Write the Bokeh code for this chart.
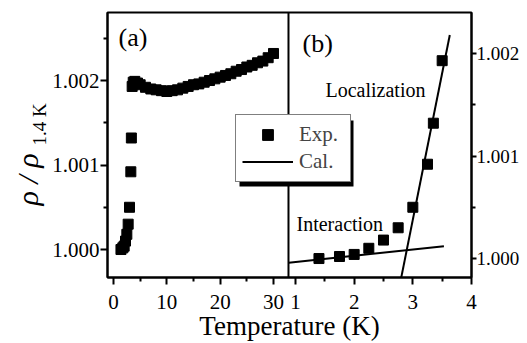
from bokeh.plotting import figure
from bokeh.models import (Range1d, LinearAxis, FixedTicker, PrintfTickFormatter, Span,
                          Label, Legend, LegendItem, BoxAnnotation, Title)
from bokeh.embed import file_html
from bokeh.resources import INLINE

# ---------------- data ----------------
# low-temperature measured points (shown in both panels)
t_low = [1.4, 1.75, 2.0, 2.25, 2.5, 2.75, 3.0, 3.25, 3.35, 3.5]
rho_low = [1.00000, 1.00002, 1.00004, 1.00010, 1.00018, 1.00030, 1.00050, 1.00092, 1.00132, 1.00193]
# higher-temperature measured points (panel a only)
t_high = [3.7, 4, 4.5, 5, 6, 7, 8, 9, 10, 11, 12, 13, 14, 15, 16, 17, 18, 19, 20,
          21, 22, 23, 24, 25, 26, 27, 28, 29, 30]
rho_high = [1.00198, 1.00199, 1.00197, 1.00195, 1.00192, 1.00190, 1.00189, 1.00188, 1.00187,
            1.00188, 1.00189, 1.00191, 1.00193, 1.00195, 1.00196, 1.00198, 1.00200, 1.00202,
            1.00204, 1.00206, 1.00208, 1.00211, 1.00213, 1.00216, 1.00218, 1.00221, 1.00223,
            1.00227, 1.00232]
# calculated lines (panel b)
t_interaction = [0.885, 3.53]
rho_interaction = [0.99996, 1.00012]
t_localization = [2.78, 3.63]
rho_localization = [0.99975, 1.00218]

# ticks
xticks_a = [0, 10, 20, 30]
xminor_a = [5, 15, 25]
xticks_b = [1, 2, 3, 4]
xminor_b = [1.5, 2.5, 3.5]
yticks = [1.000, 1.001, 1.002]
yminor_a = [1.0005, 1.0015, 1.0025]
yminor_b = [1.0005, 1.0015]

# ---------------- ranges ----------------
XA = (-1.125, 67.125)
XA_END = 32.81          # right edge of panel (a)
XB = (-2.204, 4.0)
YA = (0.999669, 1.002805)
YB = (0.999815, 1.0024)

FONT = "Liberation Serif"


def b_to_a(v):
    return round(XA[0] + (v - XB[0]) / (XB[1] - XB[0]) * (XA[1] - XA[0]), 6)


p = figure(width=527, height=343, x_range=Range1d(*XA), y_range=Range1d(*YA),
           x_axis_type=None, y_axis_type=None, output_backend="svg",
           toolbar_location=None, min_border_left=107, min_border_right=56,
           min_border_top=12, min_border_bottom=66,
           outline_line_color="black", outline_line_width=2,
           background_fill_color="white", border_fill_color="white")
p.extra_x_ranges = {"b": Range1d(*XB)}
p.extra_y_ranges = {"b": Range1d(*YB)}


def style(ax, tick_out=7, minor_out=4, standoff=1, size="20px"):
    ax.axis_line_width = 2
    ax.major_tick_line_width = 2
    ax.minor_tick_line_width = 2
    ax.major_tick_in = 0
    ax.minor_tick_in = 0
    ax.major_tick_out = tick_out
    ax.minor_tick_out = minor_out
    ax.major_label_standoff = standoff
    ax.major_label_text_font = FONT
    ax.major_label_text_font_size = size
    ax.major_label_text_color = "black"


# left axis of panel (a)
ax_left = LinearAxis(ticker=FixedTicker(ticks=yticks, minor_ticks=yminor_a),
                     formatter=PrintfTickFormatter(format="%.3f"))
style(ax_left, 7, 4, 1, "21px")
p.add_layout(ax_left, "left")

# y-axis title: rho / rho_{1.4 K}, built from two titles in the left panel
p.add_layout(Title(text="1.4 K", align="left", offset=132, standoff=0,
                   vertical_align="bottom", text_font=FONT, text_font_size="19px",
                   text_font_style="normal", text_color="black"), "left")
p.add_layout(Title(text="ρ / ρ", align="left", offset=72, standoff=-34,
                   vertical_align="bottom", text_font=FONT, text_font_size="30px",
                   text_font_style="italic", text_color="black"), "left")

# right axis of panel (b)
ax_right = LinearAxis(y_range_name="b", ticker=FixedTicker(ticks=yticks, minor_ticks=yminor_b),
                      formatter=PrintfTickFormatter(format="%.3f"))
style(ax_right, 5, 4, 0, "19px")
p.add_layout(ax_right, "right")

# shared bottom axis carrying the ticks of both panels
ticks_bottom = [float(v) for v in xticks_a] + [b_to_a(v) for v in xticks_b]
minor_bottom = [float(v) for v in xminor_a] + [b_to_a(v) for v in xminor_b]
overrides = {float(v): str(v) for v in xticks_a}
overrides.update({b_to_a(v): str(v) for v in xticks_b})
ax_bot = LinearAxis(ticker=FixedTicker(ticks=ticks_bottom, minor_ticks=minor_bottom),
                    major_label_overrides=overrides)
style(ax_bot, 7, 4, 10, "21px")
p.add_layout(ax_bot, "below")
p.add_layout(LinearAxis(ticker=FixedTicker(ticks=[]), axis_line_color=None,
                        major_tick_line_color=None, minor_tick_line_color=None,
                        major_tick_out=0, minor_tick_out=0,
                        axis_label="Temperature (K)", axis_label_text_font=FONT,
                        axis_label_text_font_size="27px", axis_label_text_font_style="normal",
                        axis_label_text_color="black", axis_label_standoff=-1), "below")

# ---------------- glyphs ----------------
p.scatter(t_low + t_high, rho_low + rho_high, marker="square", size=10,
          fill_color="black", line_color="black")
r_exp = p.scatter(t_low, rho_low, x_range_name="b", y_range_name="b", marker="square",
                  size=10, fill_color="black", line_color="black")
r_cal = p.line(t_interaction, rho_interaction, x_range_name="b", y_range_name="b",
               line_color="black", line_width=2)
p.line(t_localization, rho_localization, x_range_name="b", y_range_name="b",
       line_color="black", line_width=2)

# divider between panels
p.add_layout(Span(location=XA_END, dimension="height", line_color="black", line_width=2))

# legend shadow
p.add_layout(BoxAnnotation(left=132, right=246, top=157, bottom=91,
                           left_units="screen", right_units="screen",
                           top_units="screen", bottom_units="screen",
                           fill_color="black", fill_alpha=1.0, line_color=None))

legend = Legend(items=[LegendItem(label="Exp.", renderers=[r_exp]),
                       LegendItem(label="Cal.", renderers=[r_cal])],
                location=(128, 95), padding=6, spacing=0, margin=0,
                glyph_width=51, glyph_height=27, label_height=27, label_width=45,
                label_standoff=6, label_text_font=FONT, label_text_font_size="21px",
                label_text_baseline="middle",
                border_line_color="black", border_line_width=1.5,
                background_fill_color="white", background_fill_alpha=1.0)
p.add_layout(legend, "center")


# text labels (screen units relative to the plotting frame)
def lab(text, x, y, size, baseline="alphabetic"):
    p.add_layout(Label(text=text, x=x, y=y, x_units="screen", y_units="screen",
                       text_font=FONT, text_font_size=size, text_align="left",
                       text_baseline=baseline, text_color="black"))


lab("(a)", 11, 240, "26px", baseline="middle")
lab("(b)", 195, 234, "26px", baseline="middle")
lab("Localization", 218, 188, "20px")
lab("Interaction", 189, 54, "20px")

open("out.html", "w").write(file_html(p, INLINE))
